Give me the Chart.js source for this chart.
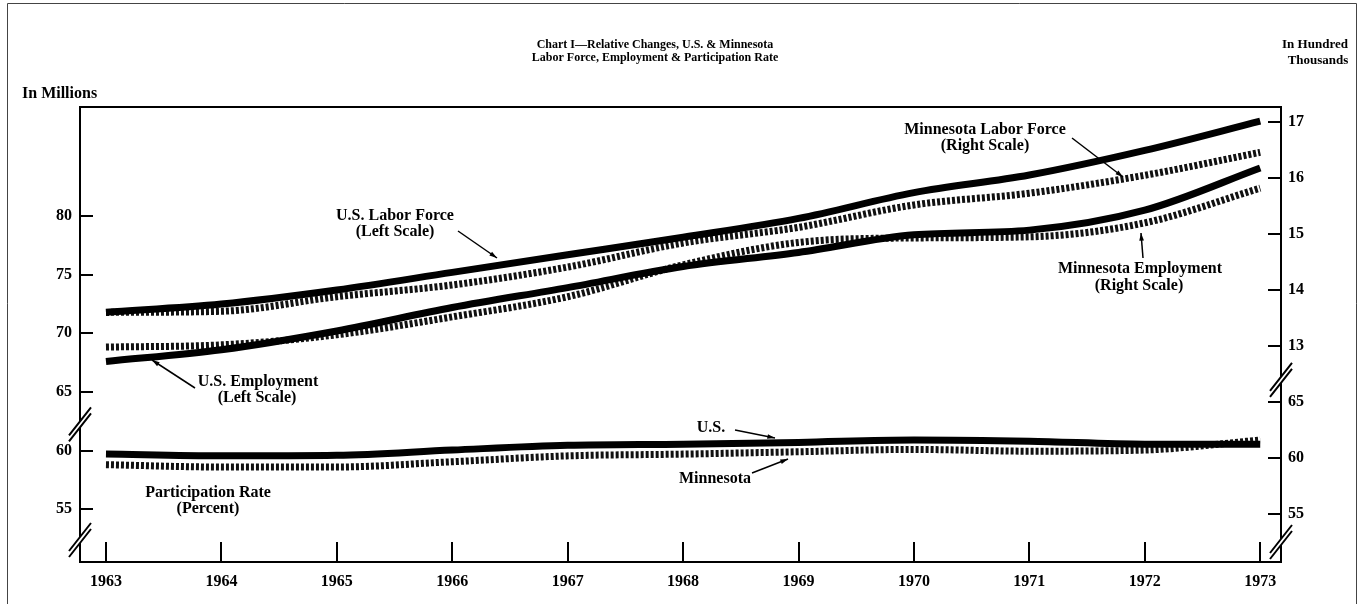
<html>
<head>
  <title>Chart I</title>
  <meta charset="utf-8">
  <script src="https://cdn.jsdelivr.net/npm/chart.js@4.4.0/dist/chart.umd.min.js"></script>
  <style>
    body { margin: 0; background: #fff; }
  </style>
</head>
<body>
<canvas id="laborChart" width="1359" height="604"></canvas>

<script>
  // values, one per year
  var years = [1963, 1964, 1965, 1966, 1967, 1968, 1969, 1970, 1971, 1972, 1973];

  // left scale, in millions
  var usLaborForce = [71.8, 72.5, 73.7, 75.2, 76.7, 78.2, 79.8, 82.0, 83.5, 85.6, 88.1];
  var usEmployment = [67.6, 68.6, 70.2, 72.2, 73.9, 75.7, 76.9, 78.4, 78.8, 80.5, 84.1];

  // right scale, in hundred thousands
  var mnLaborForce = [13.6, 13.62, 13.88, 14.09, 14.41, 14.84, 15.12, 15.52, 15.73, 16.05, 16.46];
  var mnEmployment = [12.98, 13.02, 13.2, 13.52, 13.88, 14.45, 14.85, 14.93, 14.95, 15.2, 15.82];

  // participation rate, percent
  var usParticipation = [59.7, 59.55, 59.6, 60.05, 60.45, 60.55, 60.7, 60.9, 60.8, 60.55, 60.55];
  var mnParticipation = [58.8, 58.6, 58.6, 59.05, 59.55, 59.7, 59.9, 60.1, 59.95, 60.05, 60.9];

  var leftTicks = [55, 60, 65, 70, 75, 80];
  var rightTicks = [10, 11, 12, 13, 14, 15, 16, 17];
  var rightTickLabels = ['55', '60', '65', '13', '14', '15', '16', '17'];

  var serif = '"Liberation Serif", "DejaVu Serif", serif';
  var tickFont = { family: serif, size: 16, weight: 'bold' };

  function solidLine(label, data, axis) {
    return {
      label: label, data: data, yAxisID: axis,
      borderColor: '#000', borderWidth: 7, borderCapStyle: 'butt',
      pointRadius: 0, fill: false, tension: 0.4, cubicInterpolationMode: 'monotone'
    };
  }
  function dashLine(label, data, axis) {
    var d = solidLine(label, data, axis);
    d.borderDash = [3, 2];
    d.borderColor = '#111';
    return d;
  }

  function arrow(ctx, x1, y1, x2, y2) {
    ctx.beginPath();
    ctx.moveTo(x1, y1);
    ctx.lineTo(x2, y2);
    ctx.stroke();
    var ang = Math.atan2(y2 - y1, x2 - x1);
    ctx.beginPath();
    ctx.moveTo(x2, y2);
    ctx.lineTo(x2 - 8 * Math.cos(ang - 0.3), y2 - 8 * Math.sin(ang - 0.3));
    ctx.lineTo(x2 - 8 * Math.cos(ang + 0.3), y2 - 8 * Math.sin(ang + 0.3));
    ctx.closePath();
    ctx.fill();
  }

  function axisBreak(ctx, x, y) {
    ctx.save();
    ctx.fillStyle = '#fff';
    ctx.beginPath();
    ctx.moveTo(x - 10, y + 10);
    ctx.lineTo(x + 10, y - 16);
    ctx.lineTo(x + 10, y - 10);
    ctx.lineTo(x - 10, y + 16);
    ctx.closePath();
    ctx.fill();
    ctx.lineWidth = 2;
    ctx.beginPath();
    ctx.moveTo(x - 11, y + 11);
    ctx.lineTo(x + 11, y - 17);
    ctx.moveTo(x - 11, y + 17);
    ctx.lineTo(x + 11, y - 11);
    ctx.stroke();
    ctx.restore();
  }

  var notes = [
    { t: 'U.S. Labor Force', x: 395, y: 216 },
    { t: '(Left Scale)', x: 395, y: 232 },
    { t: 'U.S. Employment', x: 258, y: 382 },
    { t: '(Left Scale)', x: 257, y: 398 },
    { t: 'Minnesota Labor Force', x: 985, y: 130 },
    { t: '(Right Scale)', x: 985, y: 146 },
    { t: 'Minnesota Employment', x: 1140, y: 269 },
    { t: '(Right Scale)', x: 1139, y: 286 },
    { t: 'U.S.', x: 711, y: 428 },
    { t: 'Minnesota', x: 715, y: 479 },
    { t: 'Participation Rate', x: 208, y: 493 },
    { t: '(Percent)', x: 208, y: 509 }
  ];

  var paperPlugin = {
    id: 'paper',
    afterDraw: function (chart) {
      var ctx = chart.ctx, a = chart.chartArea;
      var sx = chart.scales.x, sy = chart.scales.y, sy2 = chart.scales.y2;
      ctx.save();
      ctx.fillStyle = '#000';

      // page frame
      ctx.lineWidth = 1;
      ctx.strokeStyle = '#444';
      ctx.beginPath();
      ctx.moveTo(7.5, 604); ctx.lineTo(7.5, 3.5); ctx.lineTo(1356.5, 3.5); ctx.lineTo(1356.5, 604);
      ctx.stroke();
      ctx.strokeStyle = '#000';

      // plot frame
      ctx.lineWidth = 2;
      ctx.strokeRect(a.left, a.top, a.right - a.left, a.bottom - a.top);

      // inward ticks
      ctx.beginPath();
      leftTicks.forEach(function (v) {
        var y = Math.round(sy.getPixelForValue(v));
        ctx.moveTo(a.left, y); ctx.lineTo(a.left + 13, y);
      });
      rightTicks.forEach(function (v) {
        var y = Math.round(sy2.getPixelForValue(v));
        ctx.moveTo(a.right - 13, y); ctx.lineTo(a.right, y);
      });
      years.forEach(function (v) {
        var x = Math.round(sx.getPixelForValue(v));
        ctx.moveTo(x, a.bottom - 20); ctx.lineTo(x, a.bottom);
      });
      ctx.stroke();

      // axis breaks
      axisBreak(ctx, a.left, (sy.getPixelForValue(65) + sy.getPixelForValue(60)) / 2 + 3);
      axisBreak(ctx, a.left, a.bottom - 22);
      axisBreak(ctx, a.right, (sy2.getPixelForValue(13) + sy2.getPixelForValue(12)) / 2 + 6);
      axisBreak(ctx, a.right, a.bottom - 20);

      // title and axis captions
      ctx.textAlign = 'center';
      ctx.textBaseline = 'middle';
      ctx.font = 'bold 12px ' + serif;
      ctx.fillText('Chart I\u2014Relative Changes, U.S. & Minnesota', 655, 45);
      ctx.fillText('Labor Force, Employment & Participation Rate', 655, 58);

      ctx.font = 'bold 16px ' + serif;
      ctx.textAlign = 'left';
      ctx.fillText('In Millions', 22, 94);
      ctx.font = 'bold 13px ' + serif;
      ctx.textAlign = 'center';
      ctx.fillText('In Hundred', 1315, 45);
      ctx.fillText('Thousands', 1318, 61);

      // labels on the lines
      ctx.font = 'bold 16px ' + serif;
      notes.forEach(function (n) { ctx.fillText(n.t, n.x, n.y); });

      ctx.lineWidth = 1.5;
      arrow(ctx, 458, 231, 497, 258);
      arrow(ctx, 195, 388, 152, 360);
      arrow(ctx, 1072, 138, 1123, 177);
      arrow(ctx, 1143, 258, 1141, 233);
      arrow(ctx, 735, 430, 775, 438);
      arrow(ctx, 752, 473, 788, 459);

      ctx.restore();
    }
  };

  var ctx = document.getElementById('laborChart').getContext('2d');
  var chart = new Chart(ctx, {
    type: 'line',
    data: {
      labels: years,
      datasets: [
        solidLine('U.S. Labor Force', usLaborForce, 'y'),
        solidLine('U.S. Employment', usEmployment, 'y'),
        solidLine('U.S. Participation', usParticipation, 'y'),
        dashLine('Minnesota Labor Force', mnLaborForce, 'y2'),
        dashLine('Minnesota Employment', mnEmployment, 'y2'),
        dashLine('Minnesota Participation', mnParticipation, 'y')
      ].map(function (d) {
        d.data = d.data.map(function (v, i) { return { x: years[i], y: v }; });
        return d;
      })
    },
    options: {
      responsive: false,
      animation: false,
      layout: { padding: { left: 8, right: 0, top: 107, bottom: 0 } },
      plugins: {
        legend: { display: false },
        tooltip: { enabled: false }
      },
      scales: {
        x: {
          type: 'linear', min: 1962.775, max: 1973.18,
          afterBuildTicks: function (s) { s.ticks = years.map(function (v) { return { value: v }; }); },
          afterFit: function (s) { s.height = 42; },
          grid: { display: false, drawTicks: false },
          border: { display: false },
          ticks: {
            font: tickFont, color: '#000', padding: 10, autoSkip: false, maxRotation: 0,
            callback: function (v) { return String(v); }
          }
        },
        y: {
          position: 'left', min: 50.5, max: 89.3,
          afterBuildTicks: function (s) { s.ticks = leftTicks.map(function (v) { return { value: v }; }); },
          afterFit: function (s) { s.width = 72; },
          grid: { display: false, drawTicks: false },
          border: { display: false },
          ticks: { font: tickFont, color: '#000', padding: 8, autoSkip: false,
            callback: function (v) { return String(v); } }
        },
        y2: {
          position: 'right', min: 9.14, max: 17.27,
          afterBuildTicks: function (s) { s.ticks = rightTicks.map(function (v) { return { value: v }; }); },
          afterFit: function (s) { s.width = 78; },
          grid: { display: false, drawTicks: false },
          border: { display: false },
          ticks: { font: tickFont, color: '#000', padding: 7, autoSkip: false,
            callback: function (v) { return rightTickLabels[rightTicks.indexOf(v)]; } }
        }
      }
    },
    plugins: [paperPlugin]
  });
</script>
</body>
</html>
